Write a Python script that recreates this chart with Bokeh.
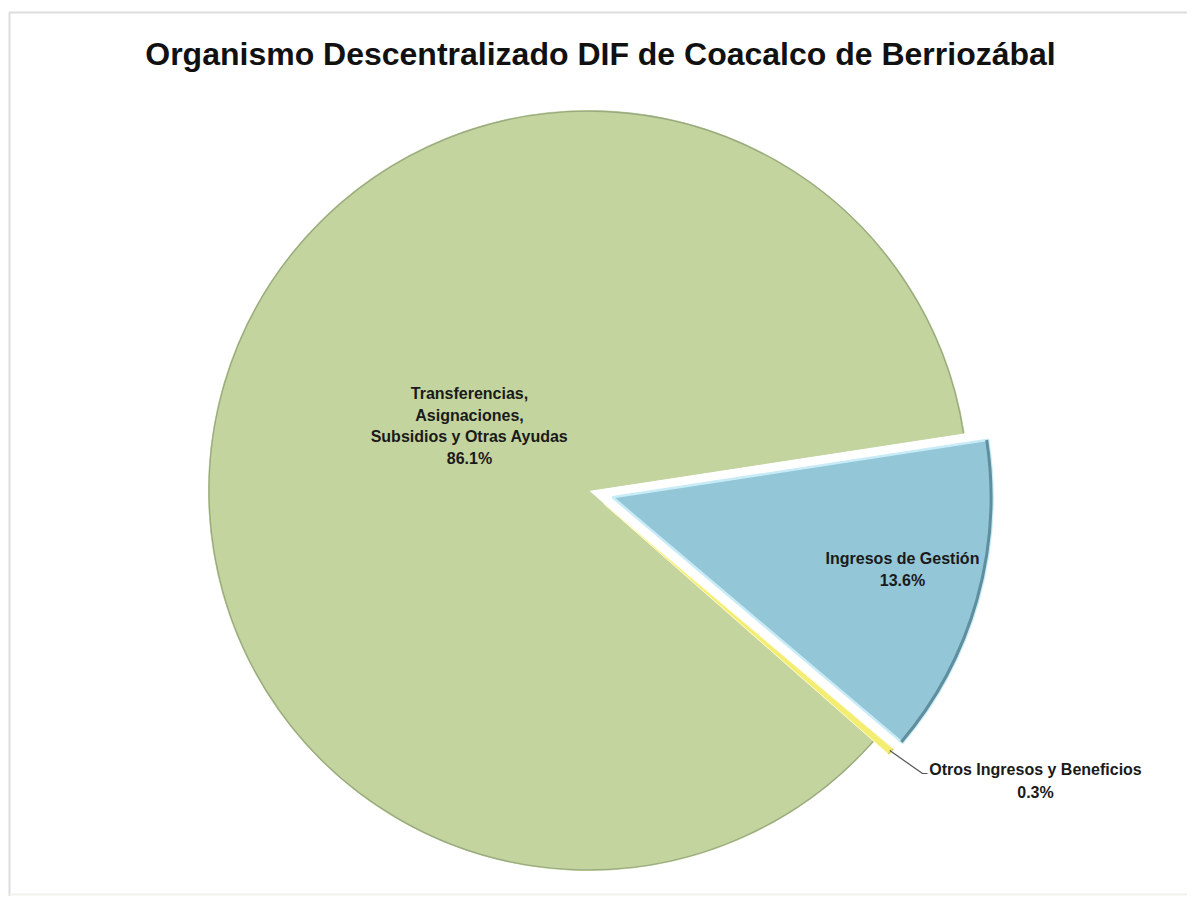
import numpy as np
from bokeh.plotting import figure
from bokeh.models import Range1d
from bokeh.core.properties import value
from bokeh.embed import file_html
from bokeh.resources import INLINE

# ---- data ----
categories = ["Transferencias, Asignaciones, Subsidios y Otras Ayudas",
              "Otros Ingresos y Beneficios",
              "Ingresos de Gestión"]
percentages = [86.1, 0.3, 13.6]
pct_labels = ["86.1%", "0.3%", "13.6%"]
label_lines = [["Transferencias,", "Asignaciones,", "Subsidios y Otras Ayudas"],
               ["Otros Ingresos y Beneficios"],
               ["Ingresos de Gestión"]]
title_text = "Organismo Descentralizado DIF de Coacalco de Berriozábal"

# ---- layout / style ----
W, H = 1187, 896
OX, OY = 0, 0               # page offset of the figure as observed
CX, CY = 588, -490          # pie centre (y negated screen px)
R = 380
START_DEG = 8.7
explode = [0, 20, 25]
fills = ["#C3D49E", "#F3EE72", "#93C6D6"]
edge_lines = ["#C3D49E", "#FFF9C8", "#C8ECF7"]
rim_colors = ["#9AAA80", "#D8D060", "#5F8E9E"]
rim_widths = [1.3, 1.5, 3]
FONT = value("Liberation Sans")

p = figure(width=W, height=H, output_backend="svg", toolbar_location=None,
           x_range=Range1d(OX, OX + W), y_range=Range1d(-OY - H, -OY),
           min_border=0, outline_line_color=None)
p.axis.visible = False
p.grid.visible = False
p.background_fill_color = "white"
p.border_fill_color = "white"

# faint frame
p.line(x=[9, 9, 1230], y=[-910, -12, -12], line_color="#DDDDDD", line_width=2)
p.line(x=[9, 1230], y=[-894, -894], line_color="#F2F2EC", line_width=2)

vals = np.array(percentages, dtype=float)
angles = vals / vals.sum() * 2 * np.pi
ends = np.radians(START_DEG) + np.cumsum(angles)
starts = ends - angles
mids = (starts + ends) / 2

xs = CX + np.array(explode) * np.cos(mids)
ys = CY + np.array(explode) * np.sin(mids)

for i in range(len(vals)):
    p.wedge(x=xs[i], y=ys[i], radius=R, start_angle=starts[i], end_angle=ends[i],
            direction="anticlock", fill_color=fills[i], line_color=edge_lines[i],
            line_width=2.5 if i == 2 else 1)
    p.arc(x=xs[i], y=ys[i], radius=R - rim_widths[i] / 2, start_angle=starts[i],
          end_angle=ends[i], direction="anticlock", line_color=rim_colors[i],
          line_width=rim_widths[i])

# ---- labels ----
def block(x, y0, lines, dy=22):
    for k, t in enumerate(lines):
        p.text(x=[x], y=[-(y0 + k * dy)], text=[t], text_align="center",
               text_baseline="middle", text_font=FONT, text_font_style="bold",
               text_font_size="16px", text_color="#1A1A1A")

block(469, 393, label_lines[0] + [pct_labels[0]], dy=21.7)
block(902, 558, label_lines[2] + [pct_labels[2]], dy=22)
block(1035, 769, label_lines[1] + [pct_labels[1]], dy=23)

# leader line for small slice
tip_a = ends[1] - angles[1] / 2
tx = xs[1] + (R - 2) * np.cos(tip_a)
ty = ys[1] + (R - 2) * np.sin(tip_a)
p.line(x=[tx, 922, 927], y=[ty, -773, -773], line_color="#555555", line_width=1.2)

# ---- title ----
p.text(x=[600], y=[-53], text=[title_text], text_align="center",
       text_baseline="alphabetic", text_font=FONT, text_font_style="bold",
       text_font_size="32px", text_color="#111111")

open("out.html", "w").write(file_html(p, INLINE))
